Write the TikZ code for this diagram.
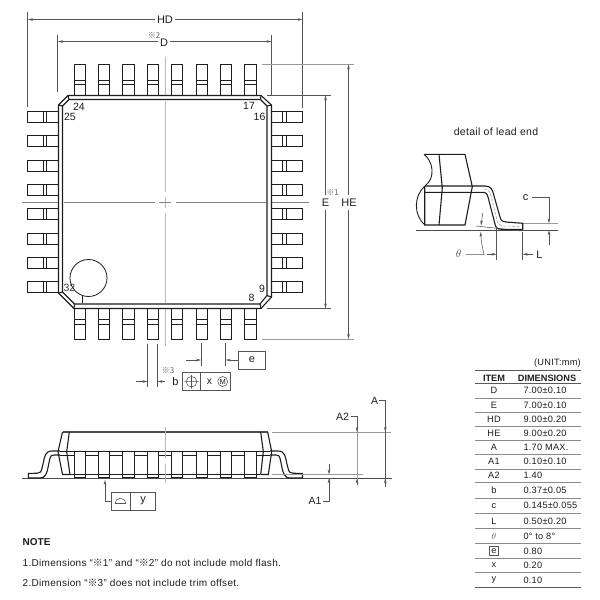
\documentclass[tikz,border=0pt]{standalone}
\usepackage{fontspec}
\setmainfont{Liberation Sans}
\newfontfamily\cjk{Noto Sans CJK JP}
\newfontfamily\spaced[LetterSpace=3]{Liberation Sans}
\usetikzlibrary{arrows.meta}
\definecolor{ink}{HTML}{1E1E1E}
\definecolor{dimc}{HTML}{555555}
\definecolor{cen}{HTML}{B8B8B8}
\definecolor{rulec}{HTML}{8A8A8A}
\tikzset{
  x=1pt,y=-1pt,
  body/.style={draw=ink,line width=1.1pt,line join=miter},
  leadbox/.style={draw=ink,line width=1.0pt,fill=white},
  thin1/.style={draw=ink,line width=0.9pt},
  dimline/.style={draw=dimc,line width=0.55pt},
  centre/.style={draw=cen,line width=1pt},
  ext/.style={draw=cen!70!dimc,line width=0.8pt},
  tip/.style={-{Stealth[length=5pt,width=2.6pt]}},
  boxed/.style={draw=dimc,line width=0.6pt},
  lab/.style={inner sep=0pt,text=ink,font=\fontsize{11}{11}\selectfont},
  alab/.style={inner sep=0pt,text=ink,font=\fontsize{10.5}{10.5}\selectfont},
  pin/.style={inner sep=0pt,text=ink,font=\fontsize{10.5}{10.5}\selectfont},
  refmark/.style={inner sep=0pt,text=black!60,font=\fontsize{8}{8}\selectfont},
  cell/.style={inner sep=0pt,text=ink,font=\spaced\fontsize{9.2}{9.2}\selectfont},
  celll/.style={cell,anchor=west},
  head/.style={inner sep=0pt,text=ink,font=\bfseries\fontsize{9.2}{9.2}\selectfont},
  tr/.style={draw=rulec,line width=0.7pt},
  trb/.style={draw=black!65,line width=1.3pt},
  note/.style={inner sep=0pt,anchor=west,text=ink,font=\spaced\fontsize{10}{10}\selectfont}
}
\begin{document}
\begin{tikzpicture}
\useasboundingbox (0,0) rectangle (600,600);
\fill[white] (0,0) rectangle (600,600);

% centre lines, top view
\draw[centre] (165,57)--(165,192) (165,197)--(165,208) (165,213)--(165,345.5);
\draw[dimline,draw=black!50] (22,202.5)--(155,202.5) (159,202.5)--(171,202.5) (176,202.5)--(309,202.5);

% leads, top and bottom
\foreach \i in {0,...,7}{
  \pgfmathsetmacro{\xa}{74+24.4*\i}
  \pgfmathsetmacro{\xb}{\xa+11.2}
  \draw[leadbox] (\xa,95.5) rectangle (\xb,64.5);
  \draw[thin1] (\xa,80) -- (\xb,80) (\xa,84.5) -- (\xb,84.5);
  \draw[leadbox] (\xa,308.5) rectangle (\xb,339);
  \draw[thin1] (\xa,319.5) -- (\xb,319.5) (\xa,324) -- (\xb,324);
}
% leads, left and right
\foreach \i in {0,...,7}{
  \pgfmathsetmacro{\ya}{111.5+24.35*\i}
  \pgfmathsetmacro{\yb}{\ya+11}
  \draw[leadbox] (58.5,\ya) rectangle (27.7,\yb);
  \draw[thin1] (43.3,\ya) -- (43.3,\yb) (46.8,\ya) -- (46.8,\yb);
  \draw[leadbox] (271.5,\ya) rectangle (302.3,\yb);
  \draw[thin1] (282.8,\ya) -- (282.8,\yb) (286.6,\ya) -- (286.6,\yb);
}
% package body
\draw[body,fill=white] (68,95.5)--(261,95.5)--(271.5,105)--(271.5,297)--(261,308.5)--(74,308.5)--(58.5,293)--(58.5,105)--cycle;
\draw[body] (69,99.5)--(260.5,99.5)--(267,106)--(267,295.5)--(260,304)--(74.5,304)--(62.5,292)--(62.5,106)--cycle;
\draw[body] (68,95.5)--(69,99.5) (261,95.5)--(260.5,99.5) (271.5,105)--(267,106) (271.5,297)--(267,295.5) (261,308.5)--(260,304) (74,308.5)--(74.5,304) (58.5,293)--(62.5,292) (58.5,105)--(62.5,106);
\draw[centre] (165,100.5)--(165,192) (165,197)--(165,208) (165,213)--(165,303);
\draw[dimline,draw=black!50] (63.5,202.5)--(155,202.5) (159,202.5)--(171,202.5) (176,202.5)--(266,202.5);

\node[pin] (p24) at (79,107) {24};
\node[pin] (p25) at (70,117) {25};
\node[pin] (p17) at (249,106) {17};
\node[pin] (p16) at (259.5,117) {16};
\node[pin] (p9) at (262,288.5) {9};
\node[pin] (p8) at (251.5,298) {8};
\node[pin,text=black!75] (p32) at (69.5,287.5) {32};
\draw[draw=ink,line width=0.8pt] (88.5,278) circle[radius=18.5pt];
\draw[draw=ink,line width=0.6pt] (82.3,295.5)--(82.3,303);

% HD
\draw[dimline] (27.7,12)--(27.7,107) (302.5,12)--(302.5,108);
\node[lab] (hd) at (165,19.5) {HD};
\draw[dimline,tip] (hd.west)++(-2,0) -- (28,19.5);
\draw[dimline,tip] (hd.east)++(2,0) -- (302.5,19.5);
% D
\draw[dimline] (57.5,35)--(57.5,92) (271.5,35)--(271.5,95);
\node[lab] (dd) at (164,43) {D};
\node[refmark] (r2) at (154,35.5) {\cjk ※2};
\draw[dimline,tip] (158,41.5) -- (58,41.5);
\draw[dimline,tip] (170,41.5) -- (271.5,41.5);
% HE, E
\draw[ext] (262,64.5)--(353.5,64.5) (262,339)--(353.5,339);
\draw[dimline] (267,95.5)--(331,95.5) (267,308.5)--(331,308.5);
\node[lab] (ee) at (325.5,202.5) {E};
\node[lab] (he) at (349,202.5) {HE};
\node[refmark] (r1) at (332.5,192.5) {\cjk ※1};
\draw[dimline,tip] (325.5,195) -- (325.5,95.5);
\draw[dimline,tip] (325.5,210) -- (325.5,308.5);
\draw[dimline,tip] (348.5,195) -- (348.5,64.5);
\draw[dimline,tip] (348.5,210) -- (348.5,339);

% b
\draw[dimline] (147.5,343.5)--(147.5,386.5) (157.5,343.5)--(157.5,386.5);
\draw[dimline,tip] (136,381.5) -- (147.5,381.5);
\draw[dimline,tip] (165,381.5) -- (157.5,381.5);
\node[lab] (bb) at (175.5,381.5) {b};
\node[refmark] (r3) at (168,371) {\cjk ※3};
\draw[boxed] (182.3,372.7) rectangle (230,390.7) (200.7,372.7)--(200.7,390.7);
\draw[dimline] (191.5,381.7) circle[radius=5.3pt] (184.5,381.7)--(198.5,381.7) (191.5,375)--(191.5,388.5);
\node[lab,font=\fontsize{10.5}{10.5}\selectfont] (xx) at (209.5,381.5) {x};
\draw[dimline] (222.7,381.5) circle[radius=5pt];
\node[inner sep=0pt,text=ink,font=\fontsize{7.5}{7.5}\selectfont] (mm) at (222.7,381.5) {M};
% e
\draw[dimline] (201,343)--(201,365.5) (225.7,343)--(225.7,365.5);
\draw[dimline,tip] (186,360) -- (201,360);
\draw[dimline,tip] (238.5,360) -- (225.7,360);
\draw[boxed] (238.5,351) rectangle (265,369.5);
\node[lab] (ebox) at (252,360) {e};

% side view
\draw[dimline,draw=black!70,line width=0.7pt] (21.7,478.3)--(391.7,478.3);
\draw[thin1] (60,455)--(270,455) (70,474.5)--(260,474.5);
\foreach \i in {0,...,7}{
  \pgfmathsetmacro{\xa}{74+24.4*\i}
  \pgfmathsetmacro{\xb}{\xa+11.2}
  \draw[leadbox] (\xa,451) rectangle (\xb,477.7);
  \draw[thin1] (\xa,474) -- (\xb,474);
}
\draw[thin1] (60,451)--(74,451);
\foreach \i in {0,...,6}{
  \pgfmathsetmacro{\xa}{85.2+24.4*\i}
  \pgfmathsetmacro{\xb}{\xa+13.2}
  \draw[thin1] (\xa,451)--(\xb,451);
}
\draw[thin1] (256,451)--(270,451);
\draw[draw=black!70,line width=1.6pt] (62.5,432)--(267.7,432);
\draw[body] (62.5,432)--(58,451.7)--(62.5,474.5)--(70,474.5);
\draw[body] (69.3,432)--(66.7,451.7)--(70,474.5);
\draw[body] (267.7,432)--(271.7,451.7)--(268.3,474.5)--(260.7,474.5);
\draw[body] (260.7,432)--(263.3,451.7)--(260.7,474.5);
% gull wing leads
\draw[thin1,line width=1.1pt] (60,451)--(52,451) .. controls (45,451) and (44.5,457) .. (43.3,463) -- (42,468) .. controls (41,472.5) and (40,473) .. (37,473.2) -- (28.3,473.5)--(28.3,478)--(40,478) .. controls (45,478) and (47,474) .. (48.3,466) -- (49.8,459) .. controls (50.5,455.5) and (52,455) .. (54,455)--(60,455);
\draw[thin1,line width=1.1pt] (270,451)--(278,451) .. controls (285,451) and (285.5,457) .. (286.7,463) -- (288,468) .. controls (289,472.5) and (290,473) .. (293,473.2) -- (302.5,473.5)--(302.5,478)--(290,478) .. controls (285,478) and (283,474) .. (281.7,466) -- (280.2,459) .. controls (279.5,455.5) and (278,455) .. (276,455)--(270,455);
\draw[centre] (165,427)--(165,458) (165,463.5)--(165,482.7);

% A, A1, A2
\draw[ext] (271.7,432)--(391,432) (271.7,474.5)--(363,474.5);
\draw[dimline] (323,501)--(329,501)--(329,478.3);
\draw[dimline,tip] (329,464)--(329,474.5);
\draw[dimline,tip] (329,490)--(329,478.3);
\node[alab] (a1) at (315,501) {A1};
\draw[ext] (357,420)--(357,485);
\draw[dimline] (351,416)--(357,416)--(357,425);
\draw[dimline,tip] (357,425)--(357,432);
\draw[dimline,tip] (357,485)--(357,478.3);
\node[alab] (a2) at (342.5,416.5) {A2};
\draw[dimline] (379,400.5)--(385.3,400.5)--(385.3,487);
\draw[dimline,tip] (385.3,425)--(385.3,432);
\draw[dimline,tip] (385.3,487)--(385.3,478.3);
\node[alab] (aa) at (374.5,401) {A};

% y flatness
\draw[dimline,tip] (111,501.7)--(105,501.7)--(105,480);
\draw[boxed] (111,492.3) rectangle (155,510) (130,492.3)--(130,510);
\draw[dimline] (115,503.7) -- (126,503.7);
\draw[dimline] (115,503.7) arc[start angle=180,end angle=0,radius=5.5pt];
\node[lab] (yy) at (143,500.5) {y};

% detail
\node[inner sep=0pt,text=ink,font=\spaced\fontsize{10.5}{10.5}\selectfont] (title) at (496,132) {detail of lead end};
\draw[dimline,draw=black!70,line width=0.7pt] (415.7,230.3)--(558,230.3);
\draw[ext] (522.7,223.3)--(558,223.3);
\draw[dimline] (476,226)--(521.7,231);
\draw[body] (424,154.3)--(465,154.3)--(472.3,186.7)--(465,225)--(424.7,225)--(424.7,187);
\draw[thin1] (424,154.3) .. controls (433,161) and (436,178) .. (425,186) .. controls (414,195) and (413,215) .. (425,225);
\draw[body] (439,154.3)--(442.3,188)--(439,225);
\draw[body] (425,186)--(485,186) .. controls (491,186) and (492.5,190) .. (493.5,194) -- (500,217) .. controls (501,221) and (503,222) .. (506,222) -- (522.7,223.3)--(522.7,229.3)--(502,229.3) .. controls (497,229.3) and (496,228) .. (495,224) -- (488,197) .. controls (487,193.5) and (486,192.3) .. (482,192.3)--(425,192.3);
\draw[cen!70!dimc,line width=0.5pt,dash pattern=on 3pt off 1.5pt] (484,189) .. controls (488,189) and (490,191) .. (491,196) -- (497,220) .. controls (498,224) and (500,226) .. (504,226) -- (521,226.5);
% c
\node[lab] (cc) at (525.7,197.7) {c};
\draw[dimline] (532.3,197.7)--(549,197.7)--(549,218);
\draw[dimline,tip] (549,214)--(549,223.3);
\draw[dimline,tip] (549,245)--(549,230.3);
% theta
\node[inner sep=0pt,text=black!70,font=\fontsize{11}{11}\selectfont] (theta) at (458.7,254) {$\theta$};
\draw[dimline,tip] (465.7,254.3)--(484,254.3) .. controls (482,246) and (481,240) .. (480.7,232);
\draw[dimline,tip] (482.7,213)--(481,225.5);
% L
\draw[dimline] (496.7,226)--(496.7,260) (522.7,232)--(522.7,260);
\draw[dimline,tip] (487.3,254.3)--(496.7,254.3);
\draw[dimline,tip] (533,254.3)--(522.7,254.3);
\node[lab] (ll) at (539.5,254.3) {L};

% table
\node[cell,anchor=east] (unit) at (581,362.7) {(UNIT:mm)};
\draw[trb] (475,370.7)--(581,370.7);
\node[head] (h1) at (494,378) {ITEM};
\node[head] (h2) at (547,378) {DIMENSIONS};
\draw[trb] (475,383.5)--(581,383.5);
\foreach \yy in {398,412.3,426.5,440.7,454.8,469,482.7,498,513.3,528.3,543.3,558.2,572.7}
  \draw[tr] (475,\yy)--(581,\yy);
\draw[trb] (475,587.3)--(581,587.3);
\node[cell] (t1) at (494,390.7) {D};
\node[celll] (v1) at (523.3,390.7) {7.00±0.10};
\node[cell] (t2) at (494,405) {E};
\node[celll] (v2) at (523.3,405) {7.00±0.10};
\node[cell] (t3) at (494,419) {HD};
\node[celll] (v3) at (523.3,419) {9.00±0.20};
\node[cell] (t4) at (494,433) {HE};
\node[celll] (v4) at (523.3,433) {9.00±0.20};
\node[cell] (t5) at (494,447) {A};
\node[celll] (v5) at (523.3,447) {1.70 MAX.};
\node[cell] (t6) at (494,461.7) {A1};
\node[celll] (v6) at (523.3,461.7) {0.10±0.10};
\node[cell] (t7) at (494,475.5) {A2};
\node[celll] (v7) at (523.3,475.5) {1.40};
\node[cell] (t8) at (494,490.7) {b};
\node[celll] (v8) at (523.3,490.7) {0.37±0.05};
\node[cell] (t9) at (494,505.7) {c};
\node[celll] (v9) at (523.3,505.7) {0.145±0.055};
\node[cell] (t10) at (494,521.3) {L};
\node[celll] (v10) at (523.3,521.3) {0.50±0.20};
\node[cell,text=black!60] (t11) at (494,536) {$\theta$};
\node[celll] (v11) at (523.3,536) {0° to 8°};
\node[cell,draw=dimc,line width=0.6pt,minimum width=9.5pt,minimum height=9.5pt] (t12) at (494,551) {e};
\node[celll] (v12) at (523.3,551) {0.80};
\node[cell] (t13) at (494,565.3) {x};
\node[celll] (v13) at (523.3,565.3) {0.20};
\node[cell] (t14) at (494,580) {y};
\node[celll] (v14) at (523.3,580) {0.10};

% notes
\node[note,font=\bfseries\fontsize{10}{10}\selectfont] (n0) at (22.5,542.5) {NOTE};
\node[note] (n1) at (22.5,562.5) {1.Dimensions “{\cjk ※}1” and “{\cjk ※}2” do not include mold flash.};
\node[note] (n2) at (22.5,582.5) {2.Dimension “{\cjk ※}3” does not include trim offset.};
\end{tikzpicture}
\end{document}
